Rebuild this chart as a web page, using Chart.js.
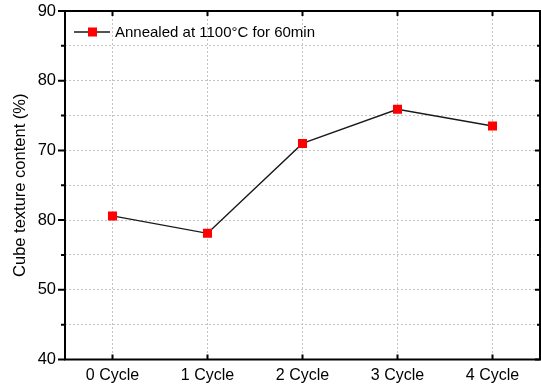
<!DOCTYPE html>
<html>
<head>
<meta charset="utf-8">
<script src="https://cdn.jsdelivr.net/npm/chart.js@4"></script>
<style>
  html, body { margin: 0; padding: 0; background: #fff; }
  #wrap { width: 541px; height: 390px; }
</style>
</head>
<body>
<div id="wrap"><canvas id="chart"></canvas></div>
<script>
  // Datos
  const cycles = ['0 Cycle', '1 Cycle', '2 Cycle', '3 Cycle', '4 Cycle'];
  const cubeContent = [60.6, 58.1, 71.0, 75.9, 73.5];
  const yTickValues = [40, 50, 60, 70, 80, 90];
  const yTickLabels = ['40', '50', '80', '70', '80', '90']; // tal cual en el original
  const seriesLabel = 'Annealed at 1100\u00B0C for 60min';

  const fontFamily = '"Liberation Sans", Arial, sans-serif';
  const gridColor = '#c4c4c4';

  // Marco, marcas de ejes y leyenda estilo Origin
  const framePlugin = {
    id: 'frame',
    afterDraw(chart) {
      const { ctx, chartArea: a, scales: { x, y } } = chart;
      ctx.save();
      ctx.strokeStyle = '#000';
      ctx.lineWidth = 2;
      ctx.strokeRect(a.left, a.top, a.right - a.left, a.bottom - a.top);

      ctx.beginPath();
      for (let v = 40; v <= 90; v += 5) {
        const py = y.getPixelForValue(v);
        const major = v % 10 === 0;
        ctx.moveTo(a.left, py); ctx.lineTo(a.left - (major ? 7 : 4), py);
        ctx.moveTo(a.right, py); ctx.lineTo(a.right - (major ? 5 : 3), py);
      }
      cycles.forEach((c, i) => {
        const px = x.getPixelForValue(i);
        ctx.moveTo(px, a.bottom); ctx.lineTo(px, a.bottom - 5);
        ctx.moveTo(px, a.top); ctx.lineTo(px, a.top + 5);
      });
      ctx.stroke();

      // leyenda
      const ds = chart.data.datasets[0];
      const ly = 32;
      ctx.strokeStyle = ds.borderColor;
      ctx.lineWidth = 1.3;
      ctx.beginPath();
      ctx.moveTo(74, ly); ctx.lineTo(110, ly);
      ctx.stroke();
      ctx.fillStyle = ds.pointBackgroundColor;
      ctx.fillRect(88, ly - 4.5, 9, 9);
      ctx.fillStyle = '#000';
      ctx.font = '15px ' + fontFamily;
      ctx.textBaseline = 'middle';
      ctx.fillText(ds.label, 115, ly + 1);
      ctx.restore();
    },
  };

  new Chart(document.getElementById('chart'), {
    type: 'line',
    data: {
      labels: cycles,
      datasets: [{
        label: seriesLabel,
        data: cubeContent,
        borderColor: '#1a1a1a',
        borderWidth: 1.3,
        pointStyle: 'rect',
        pointRadius: 6.4,
        pointBackgroundColor: '#ff0000',
        pointBorderColor: '#ff0000',
        pointBorderWidth: 0,
        tension: 0,
      }],
    },
    options: {
      responsive: true,
      maintainAspectRatio: false,
      animation: false,
      devicePixelRatio: 1,
      layout: { autoPadding: false, padding: { top: 11, right: 1, left: 0, bottom: 0 } },
      plugins: { legend: { display: false }, tooltip: { enabled: false } },
      scales: {
        x: {
          type: 'category',
          offset: true,
          afterFit: s => { s.height = 30.5; s.paddingLeft = 0; s.paddingRight = 0; },
          border: { display: false, dash: [2, 2] },
          grid: { offset: false, drawTicks: false, color: gridColor, lineWidth: 1 },
          ticks: { color: '#000', padding: 6, font: { family: fontFamily, size: 16 }, maxRotation: 0 },
        },
        y: {
          min: 40,
          max: 90,
          afterFit: s => { s.width = 65; s.paddingTop = 0; s.paddingBottom = 0; },
          border: { display: false, dash: [2, 2] },
          grid: { drawTicks: false, color: gridColor, lineWidth: 1 },
          ticks: {
            stepSize: 5,
            color: '#000',
            padding: 9,
            font: { family: fontFamily, size: 16.5 },
            callback: v => {
              const i = yTickValues.indexOf(v);
              return i >= 0 ? yTickLabels[i] : '';
            },
          },
          title: {
            display: true,
            text: 'Cube texture content (%)',
            color: '#000',
            font: { family: fontFamily, size: 16.5 },
            padding: { top: 11, bottom: 0 },
          },
        },
      },
    },
    plugins: [framePlugin],
  });
</script>
</body>
</html>
